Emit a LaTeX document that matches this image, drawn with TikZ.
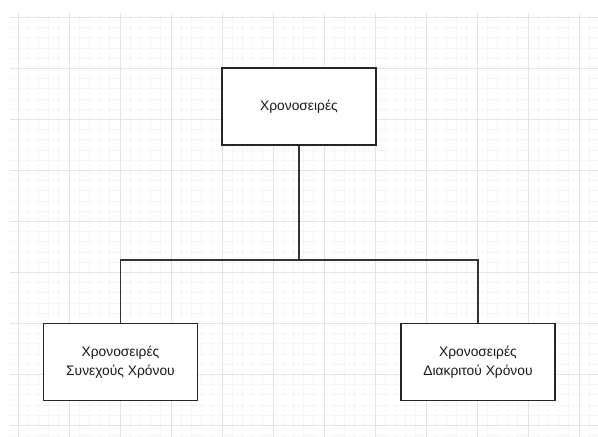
\documentclass[tikz,border=0pt]{standalone}
\usepackage{fontspec}
\setmainfont{Liberation Sans}
\begin{document}
\begin{tikzpicture}[x=1pt,y=-1pt,
  box/.style={draw=black!85, line width=1.2pt, fill=white, minimum width=154pt, minimum height=77pt, align=center, font=\fontsize{13.8}{19}\selectfont, text=black!90},
  conn/.style={draw=black!80, line width=1.1pt}]
\useasboundingbox (0,0) rectangle (598,437);
\fill[white] (0,0) rectangle (598,437);
\begin{scope}
\clip (10,13) rectangle (598,437);
\foreach \i in {-1,...,58} {
  \draw[black!4, line width=0.8pt] ({18+10.2*\i},13) -- ({18+10.2*\i},437);
}
\foreach \i in {-1,...,42} {
  \draw[black!4, line width=0.8pt] (10,{17.3+10.2*\i}) -- (598,{17.3+10.2*\i});
}
\foreach \i in {0,...,12} {
  \draw[black!11, line width=0.9pt] ({18+51*\i},13) -- ({18+51*\i},437);
}
\foreach \i in {0,...,8} {
  \draw[black!11, line width=0.9pt] (10,{17.3+51*\i}) -- (598,{17.3+51*\i});
}
\end{scope}
\node[box] (top) at (299,106.5) {Χρονοσειρές};
\node[box] (left) at (120.5,362) {Χρονοσειρές\\Συνεχούς Χρόνου};
\node[box] (right) at (478,362) {Χρονοσειρές\\Διακριτού Χρόνου};
\coordinate (mid) at (299,260);
\draw[conn] (top.south) -- (mid);
\draw[conn] (left.north) |- (mid) -| (right.north);
\end{tikzpicture}
\end{document}
